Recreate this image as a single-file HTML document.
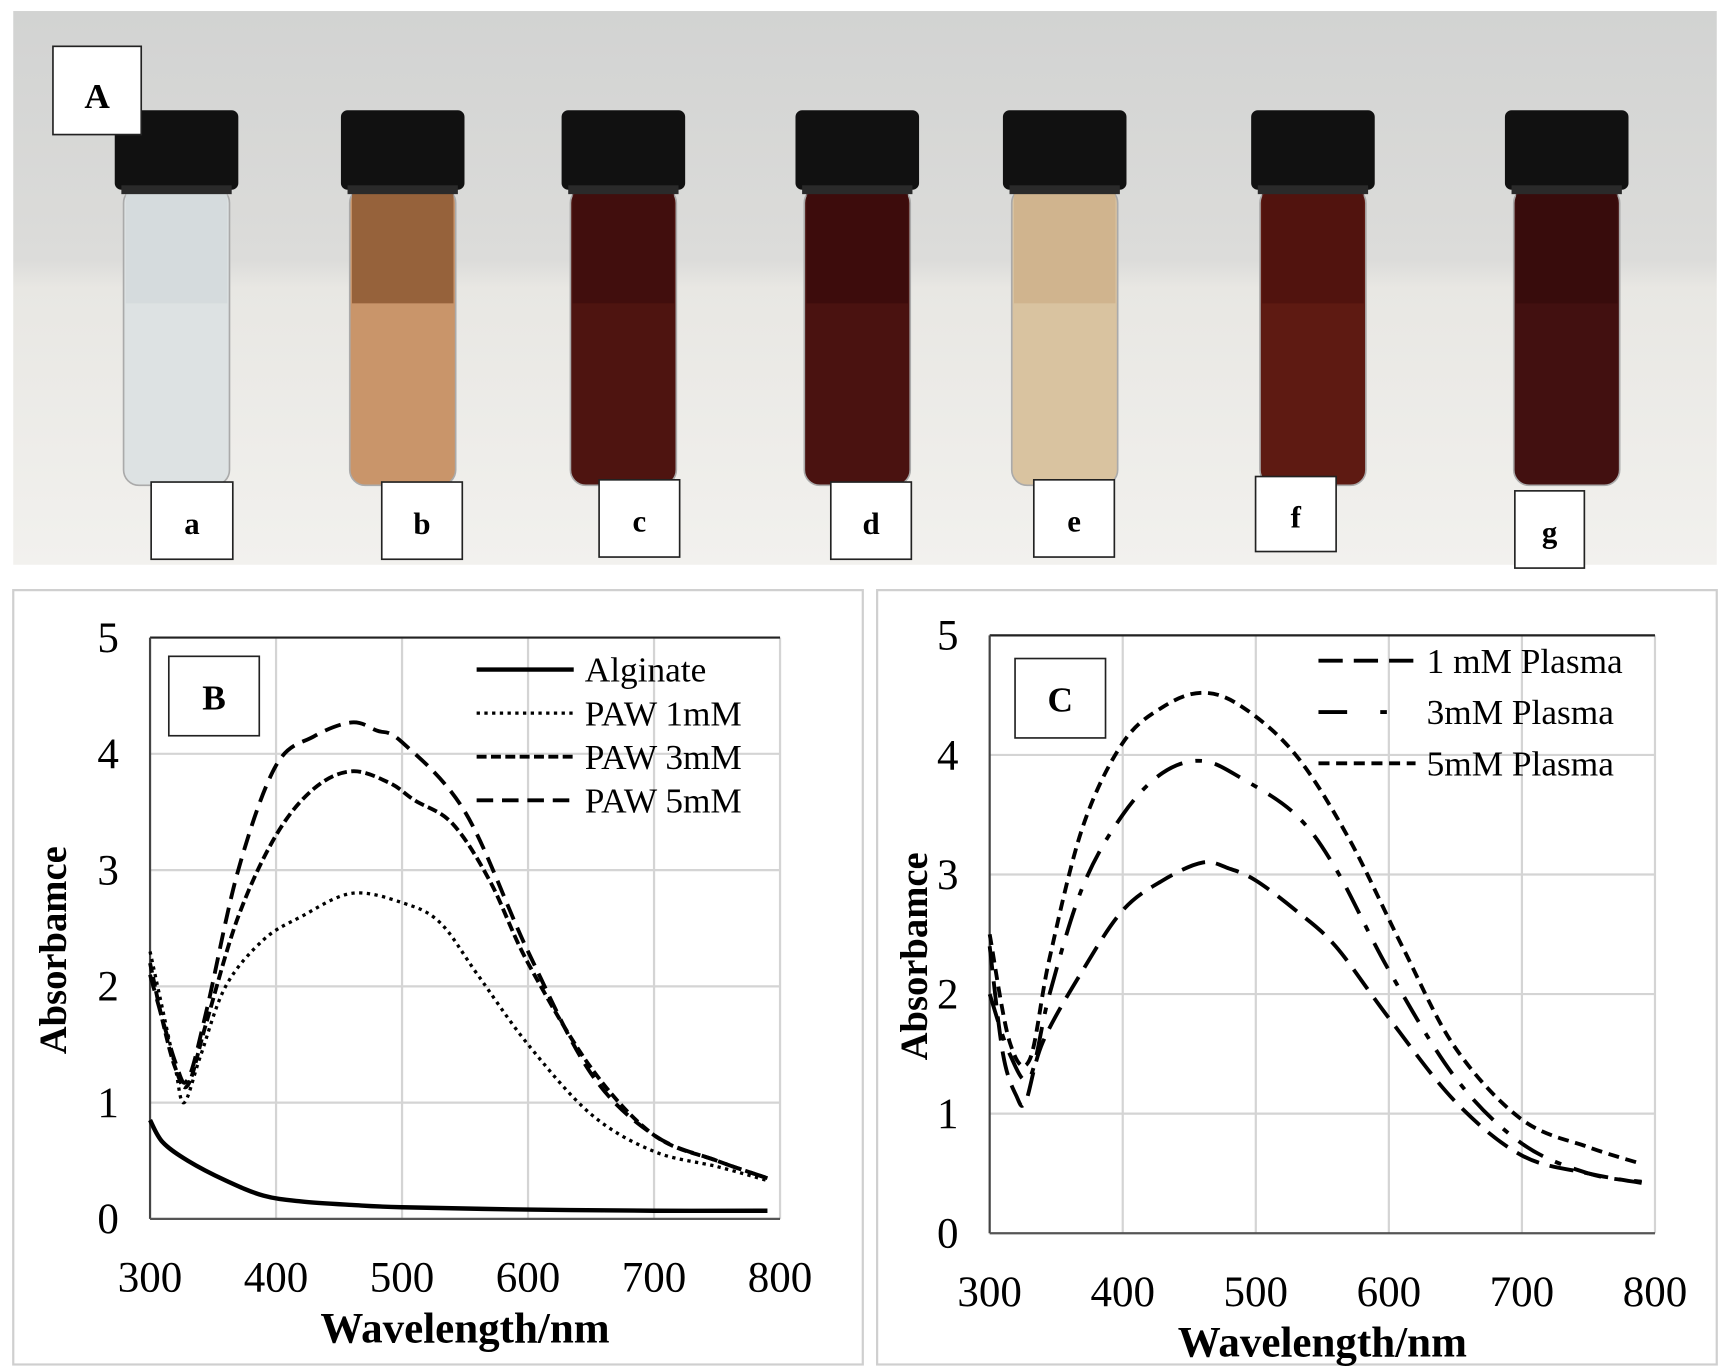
<!DOCTYPE html>
<html><head><meta charset="utf-8"><style>html,body{margin:0;padding:0;background:#fff}svg{display:block}</style></head>
<body>
<svg id="s" width="1730" height="1370" viewBox="0 0 1568 1242" preserveAspectRatio="none" xmlns="http://www.w3.org/2000/svg">
<defs>
<linearGradient id="bg" x1="0" y1="0" x2="0" y2="1">
<stop offset="0" stop-color="#d2d3d2"/><stop offset="0.45" stop-color="#dcdcda"/><stop offset="0.5" stop-color="#e8e7e3"/><stop offset="1" stop-color="#f2f1ee"/></linearGradient>
</defs>
<rect x="0" y="0" width="1568" height="1242" fill="#fff"/>
<rect x="12" y="10" width="1544" height="502" fill="url(#bg)"/>
<g id="vials"></g>
<g font-family="'Liberation Serif',serif" font-weight="bold" text-anchor="middle">
<rect x="48" y="42" width="80" height="80" fill="#fff" stroke="#222" stroke-width="1.5"/><text x="88" y="98" font-size="32">A</text>
</g>
<g id="labs" font-family="'Liberation Serif',serif" font-weight="bold" text-anchor="middle" font-size="28"></g>
<rect x="12" y="535" width="770" height="702" fill="#fff" stroke="#cfcfcf" stroke-width="2"/>
<rect x="795" y="535" width="761" height="702" fill="#fff" stroke="#cfcfcf" stroke-width="2"/>
<g id="plots"></g>
</svg>
<script>
const NS="http://www.w3.org/2000/svg";
function el(p,t,a,txt){const e=document.createElementNS(NS,t);for(const k in a)e.setAttribute(k,a[k]);if(txt!==undefined)e.textContent=txt;p.appendChild(e);return e;}
const V=document.getElementById('vials');
const vials=[[160,'#d3d9db','#dde2e3',100],[365,'#8a5530','#c9956a',100],[565,'#3e0d0c','#4e1410',100],[777,'#3a0b0b','#4a1210',100],[965,'#cdb08a','#d9c3a0',100],[1190,'#4e120e','#5e1a12',100],[1420,'#360b0b','#421010',100]];
vials.forEach(([cx,c1,c2,ct])=>{
 el(V,'rect',{x:cx-48,y:ct+70,width:96,height:270,rx:14,fill:c2,stroke:'#aaa','stroke-width':1.5});
 el(V,'rect',{x:cx-46,y:ct+75,width:92,height:100,fill:c1,opacity:0.8});
 el(V,'rect',{x:cx-56,y:ct,width:112,height:72,rx:6,fill:'#111'});
 el(V,'rect',{x:cx-50,y:ct+68,width:100,height:8,fill:'#2a2a2a'});
});
const L=document.getElementById('labs');
[['a',137,437,74,70],['b',346,437,73,70],['c',543,435,73,70],['d',753,437,73,70],['e',937,435,73,70],['f',1138,432,73,68],['g',1373,445,63,70]].forEach(([t,x,y,w,h])=>{
 el(L,'rect',{x,y,width:w,height:h,fill:'#fff',stroke:'#222','stroke-width':1.5});
 el(L,'text',{x:x+w/2,y:y+h/2+12},t);
});
const P=document.getElementById('plots');
function plot(cfg){
 const {x0,x1,y0,y5}=cfg;
 const X=v=>x0+(v-300)/500*(x1-x0), Y=v=>y0-(v/5)*(y0-y5);
 for(let i=1;i<=5;i++) el(P,'line',{x1:x0,x2:x1,y1:Y(i),y2:Y(i),stroke:'#d4d4d4','stroke-width':2});
 for(let w=400;w<=800;w+=100) el(P,'line',{x1:X(w),x2:X(w),y1:y0,y2:y5,stroke:'#d4d4d4','stroke-width':2});
 el(P,'line',{x1:x0,x2:x1,y1:y5,y2:y5,stroke:'#222','stroke-width':2});
 el(P,'line',{x1:x0,x2:x0,y1:y0,y2:y5,stroke:'#444','stroke-width':2});
 el(P,'line',{x1:x0,x2:x1,y1:y0,y2:y0,stroke:'#555','stroke-width':2});
 for(let i=0;i<=5;i++) el(P,'text',{x:x0-38,y:Y(i)+13,'font-family':"'Liberation Serif',serif",'font-size':39,'text-anchor':'middle'},String(i));
 for(let w=300;w<=800;w+=100) el(P,'text',{x:X(w),y:y0+66,'font-family':"'Liberation Serif',serif",'font-size':39,'text-anchor':'middle'},String(w));
 el(P,'text',{x:(x0+x1)/2,y:y0+112,'font-family':"'Liberation Serif',serif",'font-size':39,'font-weight':'bold','text-anchor':'middle'},'Wavelength/nm');
 const ay=(y0+y5)/2+20;
 el(P,'text',{x:cfg.ax,y:ay,transform:`rotate(-90 ${cfg.ax} ${ay})`,'font-family':"'Liberation Serif',serif",'font-size':35,'font-weight':'bold','text-anchor':'middle'},'Absorbamce');
 el(P,'rect',{x:cfg.bx,y:cfg.by,width:82,height:72,fill:'#fff',stroke:'#222','stroke-width':1.5});
 el(P,'text',{x:cfg.bx+41,y:cfg.by+48,'font-family':"'Liberation Serif',serif",'font-size':32,'font-weight':'bold','text-anchor':'middle'},cfg.lab);
 cfg.series.forEach(([pts,dash,sw])=>{
  const p=pts.map(([a,b])=>[X(a),Y(b)]);
  let d='M'+p[0][0]+' '+p[0][1];
  for(let i=0;i<p.length-1;i++){const a=p[Math.max(0,i-1)],b=p[i],c=p[i+1],e=p[Math.min(p.length-1,i+2)];
   d+=` C${b[0]+(c[0]-a[0])/6} ${b[1]+(c[1]-a[1])/6} ${c[0]-(e[0]-b[0])/6} ${c[1]-(e[1]-b[1])/6} ${c[0]} ${c[1]}`;}
  el(P,'path',{d,fill:'none',stroke:'#000','stroke-width':sw,'stroke-dasharray':dash});
 });
 cfg.legend.forEach(([t,dash,sw],i)=>{
  const y=cfg.ly+i*cfg.ld;
  el(P,'line',{x1:cfg.lx,x2:cfg.lx+88,y1:y,y2:y,stroke:'#000','stroke-width':sw,'stroke-dasharray':dash});
  el(P,'text',{x:cfg.lx+98,y:y+11,'font-family':"'Liberation Serif',serif",'font-size':32},t);
 });
}
const alg=[[300,0.85],[310,0.66],[330,0.5],[360,0.33],[390,0.2],[420,0.15],[460,0.12],[500,0.1],[600,0.08],[700,0.07],[790,0.07]];
const p1=[[300,2.3],[310,1.8],[320,1.3],[327,1.0],[340,1.4],[360,2.0],[390,2.4],[420,2.6],[460,2.8],[500,2.72],[530,2.55],[560,2.1],[600,1.5],[650,0.9],[700,0.58],[750,0.45],[790,0.33]];
const p3=[[300,2.2],[310,1.7],[320,1.3],[330,1.15],[345,1.7],[370,2.6],[400,3.3],[430,3.7],[460,3.85],[490,3.75],[510,3.6],[540,3.4],[570,2.9],[600,2.2],[650,1.3],[700,0.72],[750,0.5],[790,0.35]];
const p5=[[300,2.1],[320,1.35],[330,1.2],[345,1.8],[370,3.0],[400,3.9],[430,4.15],[460,4.27],[480,4.2],[500,4.1],[550,3.5],[600,2.3],[650,1.25],[700,0.72],[750,0.5],[790,0.35]];
plot({x0:136,x1:707,y0:1105,y5:578,ax:60,bx:153,by:595,lab:'B',lx:432,ly:607,ld:39.5,
 series:[[alg,'',4],[p1,'3 4',3],[p3,'9 4',3.5],[p5,'15 8',3.5]],
 legend:[['Alginate','',4],['PAW 1mM','3 4',3],['PAW 3mM','9 4',3.5],['PAW 5mM','15 8',3.5]]});
const c1=[[300,2.4],[310,1.5],[320,1.15],[327,1.1],[340,1.6],[370,2.2],[400,2.7],[430,2.95],[460,3.1],[480,3.05],[500,2.95],[530,2.7],[560,2.4],[600,1.8],[650,1.1],[700,0.65],[750,0.5],[790,0.42]];
const c3=[[300,2.0],[315,1.5],[330,1.3],[345,2.0],[370,2.9],[400,3.5],[430,3.85],[460,3.95],[490,3.8],[530,3.5],[560,3.05],[600,2.2],[650,1.3],[700,0.75],[750,0.5],[790,0.43]];
const c5=[[300,2.5],[315,1.6],[330,1.45],[345,2.3],[370,3.4],[400,4.1],[430,4.4],[460,4.52],[490,4.4],[530,4.0],[570,3.3],[610,2.4],[650,1.55],[700,0.95],[750,0.72],[790,0.58]];
plot({x0:897,x1:1500,y0:1118,y5:576,ax:840,bx:920,by:597,lab:'C',lx:1195,ly:599,ld:46.5,
 series:[[c1,'22 10',3.5],[c3,'26 12 6 12',3.5],[c5,'10 6',3.5]],
 legend:[['1 mM Plasma','22 10',3.5],['3mM Plasma','26 30 6 30',3.5],['5mM Plasma','10 6',3.5]]});
</script>
</body></html>
